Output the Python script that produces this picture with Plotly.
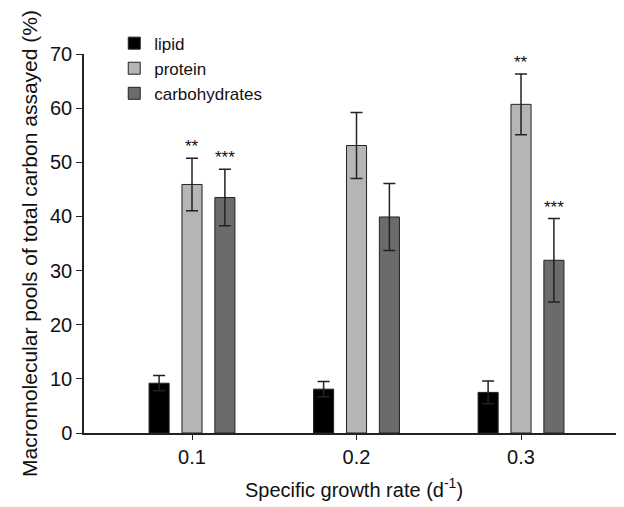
import plotly.graph_objects as go

growth_rates = [0.1, 0.2, 0.3]
tick_labels = ["0.1", "0.2", "0.3"]

lipid = [9.2, 8.1, 7.5]
lipid_err = [1.4, 1.4, 2.1]
protein = [45.9, 53.1, 60.7]
protein_err = [4.85, 6.1, 5.6]
carbohydrates = [43.5, 39.9, 31.9]
carbohydrates_err = [5.2, 6.2, 7.7]

protein_sig = ["**", "", "**"]
carb_sig = ["***", "", "***"]

FONT = "Liberation Sans, Arial, sans-serif"
BARGAP = 0.4
BARGROUPGAP = 0.39

fig = go.Figure()
series = [
    ("lipid", lipid, lipid_err, "#000000"),
    ("protein", protein, protein_err, "#b5b5b5"),
    ("carbohydrates", carbohydrates, carbohydrates_err, "#6b6b6b"),
]
for name, vals, errs, color in series:
    fig.add_trace(go.Bar(
        name=name, x=growth_rates, y=vals,
        marker=dict(color=color, line=dict(color="#222222", width=1)),
        error_y=dict(type="data", array=errs, visible=True, color="#222222",
                     thickness=1.5, width=6),
    ))

slot = 0.1 * (1 - BARGAP) / 3
annotations = []
for i, x in enumerate(growth_rates):
    if protein_sig[i]:
        annotations.append(dict(x=x, y=protein[i] + protein_err[i], text=protein_sig[i],
                                showarrow=False, yanchor="bottom", yshift=0,
                                font=dict(family=FONT, size=17, color="#111111")))
    if carb_sig[i]:
        annotations.append(dict(x=x + slot, y=carbohydrates[i] + carbohydrates_err[i],
                                text=carb_sig[i], showarrow=False, yanchor="bottom", yshift=0,
                                font=dict(family=FONT, size=17, color="#111111")))

fig.update_layout(
    width=616, height=499,
    margin=dict(l=76, r=0, t=46, b=74),
    paper_bgcolor="white", plot_bgcolor="white",
    barmode="group", bargap=BARGAP, bargroupgap=BARGROUPGAP,
    font=dict(family=FONT, color="#111111"),
    showlegend=True,
    legend=dict(x=0.056, y=1.075, xanchor="left", yanchor="top",
                font=dict(family=FONT, size=17, color="#111111"),
                bgcolor="rgba(0,0,0,0)", tracegroupgap=0),
    annotations=annotations,
    xaxis=dict(
        range=[0.03435, 0.3626], tickvals=growth_rates, ticktext=tick_labels,
        showline=True, linecolor="#222222", linewidth=1.5,
        ticks="outside", ticklen=5, tickcolor="#222222", showgrid=False, zeroline=False,
        tickfont=dict(family=FONT, size=20, color="#111111"),
        title=dict(text="Specific growth rate (d<sup>-1</sup>)",
                   font=dict(family=FONT, size=20, color="#111111"), standoff=16),
    ),
    yaxis=dict(
        range=[0, 70], dtick=10,
        showline=True, linecolor="#222222", linewidth=1.5,
        ticks="outside", ticklen=6, tickcolor="#222222", showgrid=False, zeroline=False,
        tickfont=dict(family=FONT, size=20, color="#111111"),
        title=dict(text="Macromolecular pools of total carbon assayed (%)",
                   font=dict(family=FONT, size=21, color="#111111"), standoff=7),
    ),
)

fig.write_html("out.html")
